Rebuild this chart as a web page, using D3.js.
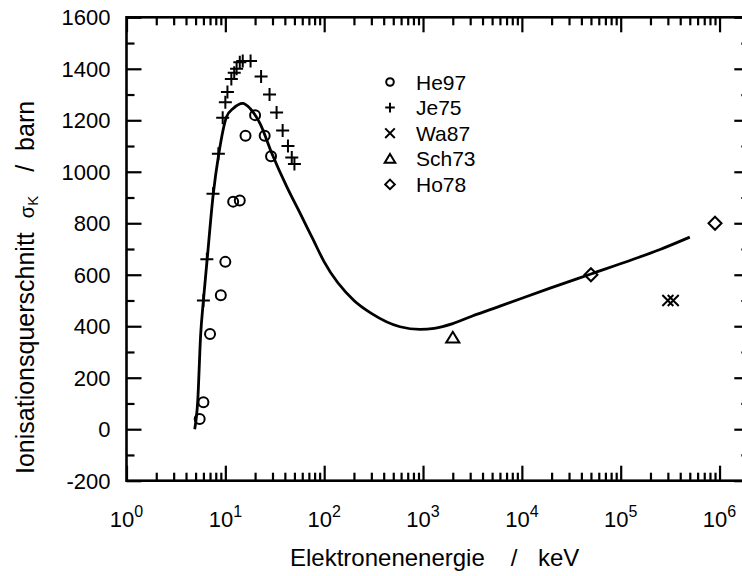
<!DOCTYPE html>
<html>
<head>
<meta charset="utf-8">
<script src="https://cdn.jsdelivr.net/npm/d3@7"></script>
<style>
  body { margin: 0; background: #fff; }
  svg { display: block; font-family: Arial, "Liberation Sans", sans-serif; }
</style>
</head>
<body>
<div id="chart"></div>
<script>
// Elektronenenergie (keV) and cross sections (barn)
const curveE = [4.9, 5.25, 5.63, 6.0, 6.55, 7.55, 8.58, 10.3, 12, 15, 17.8, 22.4, 29.5, 41.8, 57, 77.6, 100, 200, 300, 585, 933, 1300, 2000, 3162, 6010, 19300, 50000, 134000, 250000, 500000];
const curveS = [0, 106, 369, 500, 660, 914, 1069, 1214, 1246, 1266, 1246, 1188, 1072, 942, 839, 735, 650, 500, 450, 398, 388, 392, 410, 440, 478, 548, 603, 660, 698, 746];

const he97E = [5.5, 6, 7, 9, 10, 12, 14, 16, 20, 25, 29];
const he97S = [40, 105, 370, 520, 650, 884, 888, 1140, 1220, 1140, 1060];

const je75E = [6, 6.5, 7.5, 8.5, 9.4, 10, 10.5, 11.5, 12.3, 13, 14, 15, 18, 23, 28, 33, 38, 43, 47, 50];
const je75S = [500, 660, 915, 1070, 1210, 1270, 1310, 1360, 1385, 1400, 1425, 1430, 1430, 1370, 1300, 1230, 1160, 1100, 1055, 1030];

const wa87E = [3.0e5, 3.4e5];
const wa87S = [500, 500];

const sch73E = [2000];
const sch73S = [355];

const ho78E = [5e4, 9e5];
const ho78S = [600, 800];

const legendNames = ["He97", "Je75", "Wa87", "Sch73", "Ho78"];
const legendKinds = ["circle", "plus", "cross", "triangle", "diamond"];

const xMajor = [1, 10, 100, 1e3, 1e4, 1e5, 1e6];
const xExp = ["0", "1", "2", "3", "4", "5", "6"];
const yMajor = [-200, 0, 200, 400, 600, 800, 1000, 1200, 1400, 1600];
const yMinor = [-100, 100, 300, 500, 700, 900, 1100, 1300, 1500];

const W = 742, H = 576;
const mLeft = 126.5, mRight = 749.3, mTop = 17.3, mBottom = 480.7;

let xMinor = [];
for (let d = 0; d < 7; d++) {
  for (let m = 2; m <= 9; m++) {
    let v = m * Math.pow(10, d);
    if (v <= 2e6) xMinor.push(v);
  }
}

let x = d3.scaleLog().domain([1, 2e6]).range([mLeft, mRight]);
let y = d3.scaleLinear().domain([-200, 1600]).range([mBottom, mTop]);

let svg = d3.select("#chart")
  .append("svg")
  .attr("width", W)
  .attr("height", H)

svg.append("rect").attr("width", W).attr("height", H).attr("fill", "#fff")

function tickAxis(axis, g) {
  g.call(axis)
  g.select(".domain").remove()
  g.selectAll(".tick line").attr("stroke", "#000").attr("stroke-width", 2.2)
  g.selectAll("text").remove()
}

// inward ticks on all four sides
tickAxis(d3.axisBottom(x).tickValues(xMajor).tickSizeInner(-15).tickSizeOuter(0),
  svg.append("g").attr("transform", `translate(0,${mBottom})`))
tickAxis(d3.axisBottom(x).tickValues(xMinor).tickSizeInner(-8).tickSizeOuter(0),
  svg.append("g").attr("transform", `translate(0,${mBottom})`))
tickAxis(d3.axisTop(x).tickValues(xMajor).tickSizeInner(-15).tickSizeOuter(0),
  svg.append("g").attr("transform", `translate(0,${mTop})`))
tickAxis(d3.axisTop(x).tickValues(xMinor).tickSizeInner(-8).tickSizeOuter(0),
  svg.append("g").attr("transform", `translate(0,${mTop})`))
tickAxis(d3.axisLeft(y).tickValues(yMajor).tickSizeInner(-15).tickSizeOuter(0),
  svg.append("g").attr("transform", `translate(${mLeft},0)`))
tickAxis(d3.axisLeft(y).tickValues(yMinor).tickSizeInner(-8).tickSizeOuter(0),
  svg.append("g").attr("transform", `translate(${mLeft},0)`))
tickAxis(d3.axisRight(y).tickValues(yMajor).tickSizeInner(-15).tickSizeOuter(0),
  svg.append("g").attr("transform", `translate(${mRight},0)`))
tickAxis(d3.axisRight(y).tickValues(yMinor).tickSizeInner(-8).tickSizeOuter(0),
  svg.append("g").attr("transform", `translate(${mRight},0)`))

svg.append("rect")
  .attr("x", mLeft).attr("y", mTop)
  .attr("width", mRight - mLeft).attr("height", mBottom - mTop)
  .attr("fill", "none").attr("stroke", "#000").attr("stroke-width", 2.6)

// y tick labels
svg.append("g").selectAll("text")
  .data(yMajor)
  .join("text")
  .attr("x", mLeft - 16)
  .attr("y", d => y(d))
  .attr("dy", "0.36em")
  .attr("text-anchor", "end")
  .attr("font-size", 22)
  .text(d => d)

// x tick labels 10^n
let xl = svg.append("g").selectAll("text")
  .data(xMajor)
  .join("text")
  .attr("x", d => x(d))
  .attr("y", 527)
  .attr("text-anchor", "middle")
  .attr("font-size", 22)
xl.append("tspan").text("10")
xl.append("tspan").attr("font-size", 16).attr("dy", -10).text((d, i) => xExp[i])

// axis titles
svg.append("text").attr("x", 290).attr("y", 566).attr("font-size", 24).text("Elektronenenergie")
svg.append("text").attr("x", 514).attr("y", 566).attr("font-size", 24).attr("text-anchor", "middle").text("/")
svg.append("text").attr("x", 538).attr("y", 566).attr("font-size", 24).text("keV")

let yt = svg.append("text")
  .attr("transform", "translate(34,0) rotate(-90)")
  .attr("font-size", 25)
yt.append("tspan").attr("x", -474).text("Ionisationsquerschnitt")
yt.append("tspan").attr("dx", 14).attr("font-size", 20).text("σ")
yt.append("tspan").attr("font-size", 15).attr("dy", 4).text("K")
yt.append("tspan").attr("dx", 24).attr("dy", -4).text("/")
yt.append("tspan").attr("dx", 14).text("barn")

// curve
let line = d3.line()
  .x(d => x(d[0]))
  .y(d => y(d[1]))
  .curve(d3.curveMonotoneX)

svg.append("path")
  .datum(curveE.map((e, i) => [e, curveS[i]]))
  .attr("d", line)
  .attr("fill", "none")
  .attr("stroke", "#000")
  .attr("stroke-width", 2.8)

function symbolPath(kind, s) {
  if (kind === "circle") return d3.symbol(d3.symbolCircle, Math.PI * s * s)()
  if (kind === "plus") return `M${-s},0H${s}M0,${-s}V${s}`
  if (kind === "cross") return `M${-s},${-s}L${s},${s}M${-s},${s}L${s},${-s}`
  if (kind === "triangle") return `M0,${-s}L${s * 1.1},${s * 0.8}L${-s * 1.1},${s * 0.8}Z`
  if (kind === "diamond") return `M0,${-s}L${s},0L0,${s}L${-s},0Z`
}

function drawSeries(E, S, kind, size) {
  svg.append("g").selectAll("path")
    .data(E.map((e, i) => [e, S[i]]))
    .join("path")
    .attr("transform", d => `translate(${x(d[0])},${y(d[1])})`)
    .attr("d", symbolPath(kind, size))
    .attr("fill", "none")
    .attr("stroke", "#000")
    .attr("stroke-width", 2)
}

drawSeries(he97E, he97S, "circle", 5)
drawSeries(je75E, je75S, "plus", 6.5)
drawSeries(wa87E, wa87S, "cross", 5.5)
drawSeries(sch73E, sch73S, "triangle", 6)
drawSeries(ho78E, ho78S, "diamond", 6.5)

// legend
let lg = svg.append("g").selectAll("g")
  .data(legendNames)
  .join("g")
  .attr("transform", (d, i) => `translate(390,${82 + i * 25.6})`)
lg.append("path")
  .attr("d", (d, i) => symbolPath(legendKinds[i], legendKinds[i] === "circle" ? 3.8 : 4.8))
  .attr("fill", "none")
  .attr("stroke", "#000")
  .attr("stroke-width", 2)
lg.append("text")
  .attr("x", 26)
  .attr("dy", "0.36em")
  .attr("font-size", 21)
  .text(d => d)
</script>
</body>
</html>
